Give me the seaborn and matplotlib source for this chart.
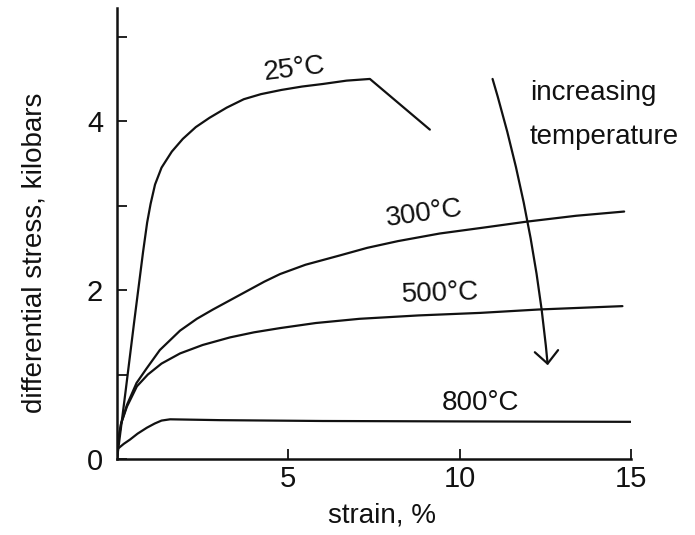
import matplotlib
matplotlib.use("Agg")
import matplotlib.pyplot as plt
import seaborn as sns
import numpy as np
import pandas as pd

# ---- data ----
strain_25 = [0, 0.25, 0.5, 0.76, 0.88, 0.98, 1.11, 1.3, 1.6, 1.92, 2.3, 2.7, 3.2, 3.7, 4.2, 4.8, 5.4, 6.0, 6.7, 7.38, 9.13]
stress_25 = [0, 0.80, 1.62, 2.45, 2.80, 3.02, 3.25, 3.45, 3.64, 3.79, 3.93, 4.04, 4.16, 4.26, 4.32, 4.37, 4.41, 4.44, 4.48, 4.50, 3.90]

strain_300 = [0, 0.03, 0.12, 0.29, 0.57, 0.86, 1.25, 1.84, 2.33, 2.8, 3.3, 3.8, 4.3, 4.76, 5.5, 6.5, 7.3, 8.2, 9.42, 10.7, 11.95, 13.4, 14.8]
stress_300 = [0, 0.20, 0.42, 0.64, 0.90, 1.07, 1.29, 1.52, 1.66, 1.77, 1.88, 1.99, 2.10, 2.19, 2.30, 2.41, 2.50, 2.58, 2.67, 2.74, 2.81, 2.88, 2.93]

strain_500 = [0, 0.03, 0.12, 0.29, 0.58, 0.9, 1.3, 1.84, 2.5, 3.3, 4.0, 4.76, 5.8, 7.08, 8.8, 10.6, 12.3, 14.75]
stress_500 = [0, 0.20, 0.42, 0.62, 0.86, 1.00, 1.13, 1.25, 1.35, 1.44, 1.50, 1.55, 1.61, 1.66, 1.70, 1.73, 1.77, 1.81]

strain_800 = [0, 0.02, 0.2, 0.38, 0.6, 0.87, 1.1, 1.3, 1.55, 3.0, 6.0, 10.0, 15.0]
stress_800 = [0, 0.12, 0.18, 0.23, 0.30, 0.37, 0.42, 0.455, 0.47, 0.46, 0.45, 0.445, 0.44]

curve_labels = ["25°C", "300°C", "500°C", "800°C"]
label_x = [5.19, 8.96, 9.45, 10.62]
label_y = [4.62, 2.90, 1.96, 0.66]
label_rot = [7, 8, 2, 0]

x_ticks = [5, 10, 15]
y_major = [0, 2, 4]
y_minor = [1, 3, 5]

arrow_start = (10.96, 4.50)
arrow_end = (12.57, 1.11)

# ---- plotting ----
sns.set_theme(style="white")
plt.rcParams["font.family"] = ["Liberation Sans", "DejaVu Sans"]

ink = "#111111"
fig = plt.figure(figsize=(6.95, 5.35), dpi=100)
ax = fig.add_axes([117 / 695, 1 - 459 / 535, 514 / 695, 451 / 535])

curves = [(strain_25, stress_25), (strain_300, stress_300),
          (strain_500, stress_500), (strain_800, stress_800)]
for (sx, sy), name in zip(curves, curve_labels):
    df = pd.DataFrame({"strain": sx, "stress": sy})
    sns.lineplot(data=df, x="strain", y="stress", ax=ax, color=ink,
                 linewidth=1.6, sort=False, estimator=None)

for t, x, y, r in zip(curve_labels, label_x, label_y, label_rot):
    ax.text(x, y, t, ha="center", va="center", rotation=r, fontsize=20, color=ink)

ax.text(12.05, 4.25, "increasing", ha="left", va="baseline", fontsize=20, color=ink)
ax.text(12.05, 3.73, "temperature", ha="left", va="baseline", fontsize=20, color=ink)

ax.annotate("", xy=arrow_end, xytext=arrow_start,
            arrowprops=dict(arrowstyle="->,head_length=0.45,head_width=0.42",
                            mutation_scale=20, lw=1.6, color=ink,
                            connectionstyle="arc3,rad=-0.05",
                            shrinkA=0, shrinkB=0))

ax.set_xlim(0, 15)
ax.set_ylim(0, 5.34)
ax.set_xticks(x_ticks)
ax.set_xticklabels([str(v) for v in x_ticks])
ax.set_yticks(y_major)
ax.set_yticklabels([str(v) for v in y_major])
ax.set_yticks(y_minor, minor=True)

for s in ["top", "right"]:
    ax.spines[s].set_visible(False)
for s in ["left", "bottom"]:
    ax.spines[s].set_color(ink)
    ax.spines[s].set_linewidth(1.8)

ax.tick_params(axis="x", which="major", bottom=True, direction="in", length=7,
               width=1.3, colors=ink, labelsize=21, pad=4)
ax.tick_params(axis="y", which="both", left=True, direction="in", length=7,
               width=1.3, colors=ink, labelsize=21, pad=10)

ax.set_xlabel("strain, %", fontsize=20, color=ink, va="center")
ax.xaxis.set_label_coords((382 - 117) / 514, (459 - 516) / 451)
ax.set_ylabel("differential stress, kilobars", fontsize=20, color=ink, va="center")
ax.yaxis.set_label_coords((35 - 117) / 514, (459 - 253) / 451)

ax.grid(False)
fig.savefig("out.png", dpi=100, facecolor="white")
